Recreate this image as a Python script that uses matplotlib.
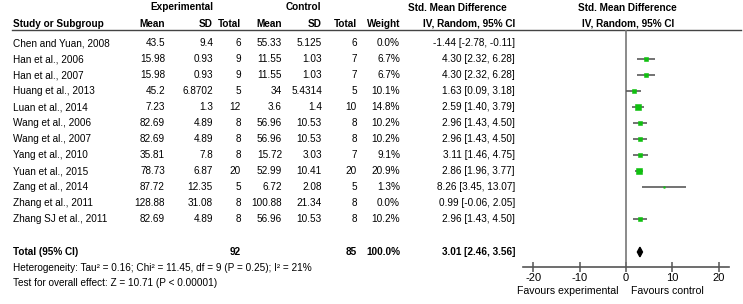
import matplotlib
matplotlib.use('Agg')
import matplotlib.pyplot as plt
from matplotlib.patches import Polygon

plt.rcParams['font.family'] = ['Liberation Sans', 'DejaVu Sans']
plt.rcParams['axes.unicode_minus'] = False

# --- data ---
studies = ['Chen and Yuan, 2008', 'Han et al., 2006', 'Han et al., 2007', 'Huang et al., 2013',
           'Luan et al., 2014', 'Wang et al., 2006', 'Wang et al., 2007', 'Yang et al., 2010',
           'Yuan et al., 2015', 'Zang et al., 2014', 'Zhang et al., 2011', 'Zhang SJ et al., 2011']
exp_mean = [43.5, 15.98, 15.98, 45.2, 7.23, 82.69, 82.69, 35.81, 78.73, 87.72, 128.88, 82.69]
exp_sd = [9.4, 0.93, 0.93, 6.8702, 1.3, 4.89, 4.89, 7.8, 6.87, 12.35, 31.08, 4.89]
exp_n = [6, 9, 9, 5, 12, 8, 8, 8, 20, 5, 8, 8]
ctl_mean = [55.33, 11.55, 11.55, 34, 3.6, 56.96, 56.96, 15.72, 52.99, 6.72, 100.88, 56.96]
ctl_sd = [5.125, 1.03, 1.03, 5.4314, 1.4, 10.53, 10.53, 3.03, 10.41, 2.08, 21.34, 10.53]
ctl_n = [6, 7, 7, 5, 10, 8, 8, 7, 20, 5, 8, 8]
weight = [0.0, 6.7, 6.7, 10.1, 14.8, 10.2, 10.2, 9.1, 20.9, 1.3, 0.0, 10.2]
smd = [-1.44, 4.30, 4.30, 1.63, 2.59, 2.96, 2.96, 3.11, 2.86, 8.26, 0.99, 2.96]
ci_lo = [-2.78, 2.32, 2.32, 0.09, 1.40, 1.43, 1.43, 1.46, 1.96, 3.45, -0.06, 1.43]
ci_hi = [-0.11, 6.28, 6.28, 3.18, 3.79, 4.50, 4.50, 4.75, 3.77, 13.07, 2.05, 4.50]

total_exp, total_ctl, total_weight = 92, 85, 100.0
pooled = (3.01, 2.46, 3.56)
heterogeneity = 'Heterogeneity: Tau² = 0.16; Chi² = 11.45, df = 9 (P = 0.25); I² = 21%'
overall = 'Test for overall effect: Z = 10.71 (P < 0.00001)'
ticks = [-20, -10, 0, 10, 20]

W, H = 743, 304
fs = 7.2


def row(px):
    # pixel row -> table row units (rows are 16 px apart, first at 43 px)
    return (px - 43) / 16


fig = plt.figure(figsize=(W / 100, H / 100), dpi=100)
ax = fig.add_axes([0, 0, 1, 1])
ax.set_xlim(0, W)
ax.set_ylim(row(H), row(0))
ax.axis('off')

# headers
ax.text(182, row(7), 'Experimental', ha='center', va='center', fontsize=fs, fontweight='bold')
ax.text(303, row(7), 'Control', ha='center', va='center', fontsize=fs, fontweight='bold')
ax.text(457, row(8), 'Std. Mean Difference', ha='center', va='center', fontsize=fs, fontweight='bold')
ax.text(627, row(8), 'Std. Mean Difference', ha='center', va='center', fontsize=fs, fontweight='bold')
hy = row(24)
ax.text(13, hy, 'Study or Subgroup', ha='left', va='center', fontsize=fs, fontweight='bold')
for x, lab in [(165, 'Mean'), (213, 'SD'), (241, 'Total'), (282, 'Mean'),
               (322, 'SD'), (357, 'Total'), (400, 'Weight')]:
    ax.text(x, hy, lab, ha='right', va='center', fontsize=fs, fontweight='bold')
ax.text(469, hy, 'IV, Random, 95% CI', ha='center', va='center', fontsize=fs, fontweight='bold')
ax.text(628, hy, 'IV, Random, 95% CI', ha='center', va='center', fontsize=fs, fontweight='bold')
ax.plot([12, 741], [row(30), row(30)], color='#444444', lw=1.0)

# study rows
for i, s in enumerate(studies):
    ax.text(13, i, s, ha='left', va='center', fontsize=fs)
    cells = [(165, f'{exp_mean[i]:g}'), (213, f'{exp_sd[i]:g}'), (241, f'{exp_n[i]}'),
             (282, f'{ctl_mean[i]:g}'), (322, f'{ctl_sd[i]:g}'), (357, f'{ctl_n[i]}'),
             (400, f'{weight[i]:.1f}%'),
             (515, f'{smd[i]:.2f} [{ci_lo[i]:.2f}, {ci_hi[i]:.2f}]')]
    for x, t in cells:
        ax.text(x, i, t, ha='right', va='center', fontsize=fs)

# total row
ty = row(252)
ax.text(13, ty, 'Total (95% CI)', ha='left', va='center', fontsize=fs, fontweight='bold')
ax.text(241, ty, f'{total_exp}', ha='right', va='center', fontsize=fs, fontweight='bold')
ax.text(357, ty, f'{total_ctl}', ha='right', va='center', fontsize=fs, fontweight='bold')
ax.text(400, ty, f'{total_weight:.1f}%', ha='right', va='center', fontsize=fs, fontweight='bold')
ax.text(515, ty, f'{pooled[0]:.2f} [{pooled[1]:.2f}, {pooled[2]:.2f}]',
        ha='right', va='center', fontsize=fs, fontweight='bold')
ax.text(13, row(268), heterogeneity, ha='left', va='center', fontsize=fs)
ax.text(13, row(283), overall, ha='left', va='center', fontsize=fs)

# forest plot
fa = fig.add_axes([523 / W, 1 - 267 / H, 206 / W, (267 - 30) / H])
fa.set_facecolor('none')
fa.set_xlim(-22.27, 22.27)
fa.set_ylim(row(267), row(30))
for sp in ['top', 'left', 'right']:
    fa.spines[sp].set_visible(False)
fa.spines['bottom'].set_color('#555555')
fa.spines['bottom'].set_linewidth(1.2)
fa.axvline(0, color='#777777', lw=1.2)
fa.set_yticks([])
fa.set_xticks(ticks)
fa.tick_params(axis='x', direction='inout', length=7, width=1.1, color='#555555',
               labelsize=8, pad=1)

for i in range(len(studies)):
    if weight[i] <= 0:
        continue
    fa.plot([ci_lo[i], ci_hi[i]], [i, i], color='#5a5a5a', lw=1.2, solid_capstyle='butt')
    side = 1.3 * weight[i] ** 0.5 * 0.72
    fa.plot(smd[i], i, marker='s', ms=side, color='#10c010', mec='#10c010', mew=0.4)

d = 0.3
fa.add_patch(Polygon([(pooled[1], ty), (pooled[0], ty - d), (pooled[2], ty), (pooled[0], ty + d)],
                     closed=True, color='black'))

fy = row(291)
fa.text(-1.7, fy, 'Favours experimental', ha='right', va='center', fontsize=7.6, clip_on=False)
fa.text(1.1, fy, 'Favours control', ha='left', va='center', fontsize=7.6, clip_on=False)

fig.savefig('out.png', dpi=100)
